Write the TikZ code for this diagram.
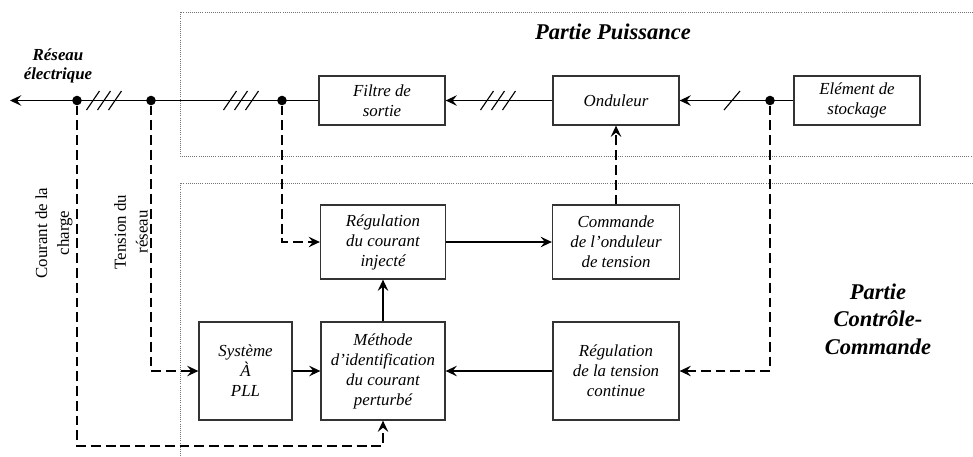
\documentclass[tikz,border=0pt]{standalone}
\usepackage{fontspec}
\setmainfont{Liberation Serif}
\usetikzlibrary{arrows.meta}

\tikzset{
  bloc/.style={draw=black!80,line width=0.9pt,inner sep=0pt,align=center,
               font=\itshape\fontsize{12}{14.2}\selectfont},
  fleche/.style={-{Stealth[length=8pt,width=7.5pt,inset=3pt]},line width=0.9pt},
  tiret/.style={fleche,dash pattern=on 7pt off 3.5pt},
  zone/.style={densely dotted,draw=black!55,line width=0.5pt},
  point/.style={circle,fill=black,inner sep=0pt,minimum size=6.8pt},
  titre/.style={align=center,font=\bfseries\itshape\fontsize{16}{19.5}\selectfont},
  mesure/.style={rotate=90,align=center,font=\fontsize{12}{15.5}\selectfont}
}

\begin{document}
\begin{tikzpicture}[x=0.025cm,y=-0.025cm]
\useasboundingbox (0,0) rectangle (973,456);

%% zones
\draw[zone] (973,12) -- (180,12) -- (180,156) -- (973,156);
\draw[zone] (973,183) -- (180,183) -- (180,456);
\node[titre] (puissance) at (613,32) {Partie Puissance};
\node[titre] (controle) at (878,319) {Partie\\Contrôle-\\Commande};

%% partie puissance
\node[bloc,minimum width=3.15cm,minimum height=1.225cm] (filtre) at (382,100.5) {Filtre de\\sortie};
\node[bloc,minimum width=3.15cm,minimum height=1.225cm] (onduleur) at (616,100.5) {Onduleur};
\node[bloc,minimum width=3.15cm,minimum height=1.225cm] (stockage) at (857,100.5) {Elément de\\stockage};
\coordinate (reseau) at (10,100.5);
\node[point] (d1) at (77,100.5) {};
\node[point] (d2) at (151,100.5) {};
\node[point] (d3) at (282,100.5) {};
\node[point] (d4) at (770,100.5) {};
\node[align=center,font=\bfseries\itshape\fontsize{12}{13.5}\selectfont] (nomreseau) at (58,66) {Réseau\\électrique};

\draw[fleche] (filtre) -- (reseau);
\draw[fleche] (onduleur) -- (filtre);
\draw[fleche] (stockage) -- (onduleur);
\foreach \c in {104,241,498}
  \foreach \k in {-11,0,11}
    \draw[line width=0.8pt] (\c+\k-6.5,110) -- ++(13,-19);
\draw[line width=0.8pt] (732-8,110) -- ++(16,-19);

%% partie controle-commande
\node[bloc,minimum width=3.125cm,minimum height=1.85cm] (regcour) at (383,242) {Régulation\\du courant\\injecté};
\node[bloc,minimum width=3.175cm,minimum height=1.85cm] (commande) at (616,242) {Commande\\de l'onduleur\\de tension};
\node[bloc,minimum width=2.325cm,minimum height=2.45cm] (pll) at (245.5,371) {Système\\À\\PLL};
\node[bloc,minimum width=3.1cm,minimum height=2.45cm] (methode) at (383,371) {Méthode\\d'identification\\du courant\\perturbé};
\node[bloc,minimum width=3.15cm,minimum height=2.45cm] (regtens) at (616,371) {Régulation\\de la tension\\continue};
\coordinate (coin) at (383,446);

\draw[fleche] (pll) -- (methode);
\draw[fleche] (methode) -- (regcour);
\draw[fleche] (regcour) -- (commande);
\draw[fleche] (regtens) -- (methode);

%% mesures
\draw[tiret] (commande) -- (onduleur);
\draw[tiret] (d3) |- (regcour);
\draw[tiret] (d2) |- (pll);
\draw[tiret] (d4) |- (regtens);
\draw[tiret] (d1) |- (coin) -- (methode);
\node[mesure] (courant) at (54,233) {Courant de la\\charge};
\node[mesure] (tension) at (131,232) {Tension du\\réseau};
\end{tikzpicture}
\end{document}
